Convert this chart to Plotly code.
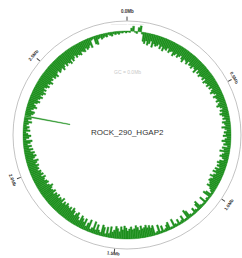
import math
import plotly.graph_objects as go

# ---- data ----
genome_mb = 2.9
tick_mb = [0.0, 0.5, 1.0, 1.5, 2.0, 2.5]
tick_labels = ["0.0Mb", "0.5Mb", "1.0Mb", "1.5Mb", "2.0Mb", "2.5Mb"]
seq_name = "ROCK_290_HGAP2"
bin_deg = 1.0
# GC deviation per 1-degree window (negative = inward)
gc_dev = [
    -1, -1.5, 3, 5, -1, -2, 4, 6, -2, -9,
    -11, -8, -12, -10, -7, -13, -9, -11, -10, -8,
    -12, -9, -13, -10, -11, -8, -12, -10, -9, -13,
    -11, -9, -12, -10, -8, -11, -13, -9, -10, -12,
    -8, -11, -10, -12, -9, -10, -13, -8, -11, -9,
    -12, -10, -9, -11, -8, -12, -10, -9, -11, -8,
    -10, -7, -9, -11, -8, -6, -10, -8, -7, -9,
    -6, -8, -10, -7, -5, -8, -6, -9, -7, -5,
    -7, -4, -8, -6, -5, -9, -6, -4, -7, -5,
    -8, -4, -6, -9, -5, -7, -3, -8, -6, -10,
    -5, -7, -9, -6, -4, -8, -10, -7, -9, -6,
    -10, -8, -11, -7, -9, -12, -8, -10, -11, -9,
    -8, -10, -6, -4, -2, -7, -9, -2, -3, -2,
    -8, -2, -2, -3, -9, -7, -2, -3, -6, -2,
    -2, -3, -8, -10, -2, -2, -7, -3, -2, -6,
    -2, -3, -9, -2, -2, -8, -6, -3, -2, -7,
    -2, -9, -3, -2, -10, -8, -11, -9, -12, -10,
    -9, -12, -8, -11, -13, -10, -9, -12, -10, -8,
    -11, -13, -9, -12, -7, -10, -12, -8, -6, -11,
    -4, -10, -3, -9, -11, -3, -5, -10, -4, -12,
    -5, -3, -12, -8, -4, -11, -7, -10, -12, -6,
    -9, -13, -11, -8, -12, -14, -10, -13, -11, -12,
    -14, -11, -13, -10, -15, -12, -13, -11, -14, -12,
    -13, -10, -14, -12, -11, -13, -15, -12, -10, -13,
    -12, -10, -11, -13, -9, -12, -10, -11, -8, -10,
    -9, -11, -8, -10, -12, -7, -9, -11, -8, -10,
    -6, -9, -5, -8, -4, -7, -9, -3, -6, -8,
    -5, -3, -7, -4, -6, -3, -5, -8, -4, -7,
    -46, -6, -8, -9, -5, -7, -10, -8, -6, -9,
    -11, -8, -10, -12, -9, -11, -13, -10, -12, -9,
    -11, -13, -10, -12, -14, -11, -12, -10, -13, -12,
    -14, -11, -10, -13, -12, -11, -14, -12, -10, -13,
    -11, -12, -14, -10, -13, -11, -9, -12, -10, -11,
    -12, -9, -10, -11, -8, -10, -9, -7, -10, -3,
    -2, -8, -9, -4, -3, -5, -4, -3, -4, -2,
    -3, -4, -2, -3, -2, -3, -1.5, -2, -1, -2,
]

# ---- geometry ----
W, H = 242, 258
CX, CY = 127, 135
R = 114
BASE = 104
LABEL_R = 123

theta = [i * bin_deg + bin_deg / 2 for i in range(len(gc_dev))]
bases = [BASE + min(v, 0) for v in gc_dev]
lengths = [abs(v) for v in gc_dev]
widths = [0.6 if abs(v) > 30 else bin_deg for v in gc_dev]

fig = go.Figure()
fig.add_trace(go.Barpolar(
    theta=theta, r=lengths, base=bases, width=widths,
    marker=dict(color="#1f911f", line=dict(width=0.4, color="#1f911f")),
    hoverinfo="skip", showlegend=False,
))

tick_deg = [m / genome_mb * 360 for m in tick_mb]

annotations = []
for d, lab in zip(tick_deg, tick_labels):
    a = math.radians(d)
    px = min(CX + LABEL_R * math.sin(a), W - 8)
    py = min(CY - LABEL_R * math.cos(a), H - 5)
    ang = d if d <= 90 else (d - 180 if d < 270 else d - 360)
    annotations.append(dict(
        x=px / W, y=1 - py / H, xref="paper", yref="paper",
        text="<b>" + lab + "</b>", showarrow=False, textangle=ang,
        font=dict(size=4.5, color="#333333", family="Liberation Sans"),
        xanchor="center", yanchor="middle"))

annotations.append(dict(
    x=CX / W, y=1 - 132 / H, xref="paper", yref="paper", text=seq_name,
    showarrow=False, font=dict(size=8, color="#333333", family="Liberation Sans"),
    xanchor="center", yanchor="middle"))
annotations.append(dict(
    x=CX / W, y=1 - 72 / H, xref="paper", yref="paper", text="GC = 0.0Mb",
    showarrow=False, font=dict(size=5, color="#c8c8c8", family="Liberation Sans"),
    xanchor="center", yanchor="middle"))
annotations.append(dict(
    x=CX / W, y=1 - 23 / H, xref="paper", yref="paper", text="———— ————",
    showarrow=False, font=dict(size=4, color="#c0c0c0", family="Liberation Sans"),
    xanchor="center", yanchor="middle"))

fig.update_layout(
    width=W, height=H, margin=dict(l=0, r=0, t=0, b=0),
    paper_bgcolor="white", plot_bgcolor="white",
    annotations=annotations,
    polar=dict(
        domain=dict(x=[(CX - R) / W, (CX + R) / W],
                    y=[1 - (CY + R) / H, 1 - (CY - R) / H]),
        bgcolor="white",
        bargap=0,
        radialaxis=dict(range=[0, R], visible=False),
        angularaxis=dict(
            rotation=90, direction="clockwise", thetaunit="degrees",
            showgrid=False, showline=True, linecolor="#b4b4b4", linewidth=0.8,
            ticks="outside", ticklen=4, tickwidth=1, tickcolor="#444444",
            tickvals=tick_deg, showticklabels=False,
        ),
    ),
)

fig.write_html(
    "out.html",
    config={"displayModeBar": False, "staticPlot": True},
    post_script="document.body.style.margin='0';document.body.style.overflow='hidden';",
)
